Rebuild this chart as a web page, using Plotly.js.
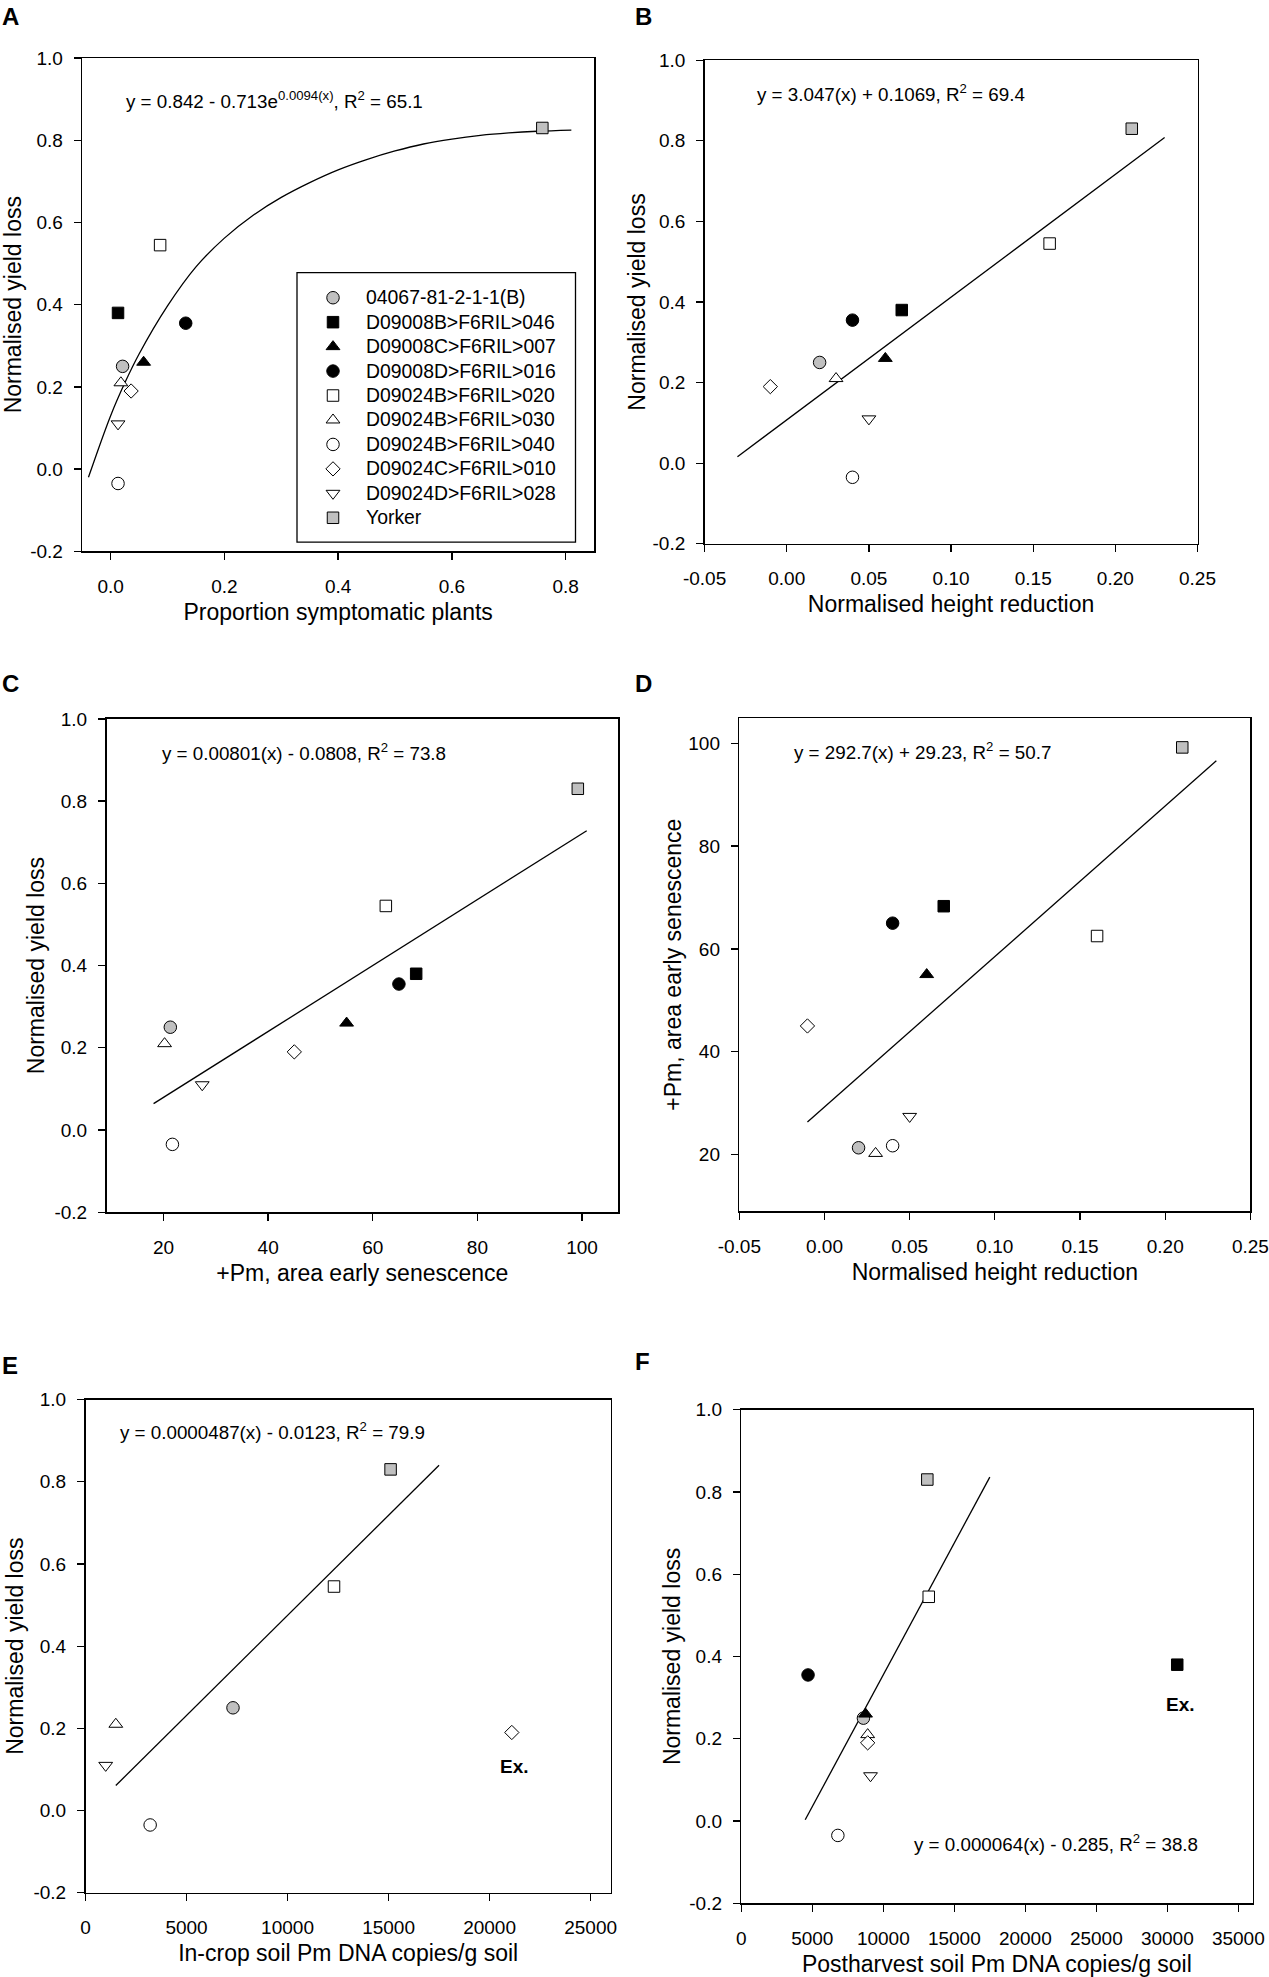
<!DOCTYPE html>
<html>
<head>
<meta charset="utf-8">
<script src="https://cdn.plot.ly/plotly-3.0.1.min.js"></script>
<style>
  body { margin: 0; background: #fff; }
  #chart { width: 1269px; height: 1977px; }
</style>
</head>
<body>
<div id="chart"></div>
<script>
// genotypes and their markers
var genotypes = ['04067-81-2-1-1(B)', 'D09008B>F6RIL>046', 'D09008C>F6RIL>007', 'D09008D>F6RIL>016',
  'D09024B>F6RIL>020', 'D09024B>F6RIL>030', 'D09024B>F6RIL>040', 'D09024C>F6RIL>010',
  'D09024D>F6RIL>028', 'Yorker'];
var symbols = ['circle', 'square', 'triangle-up', 'circle', 'square', 'triangle-up', 'circle', 'diamond', 'triangle-down', 'square'];
var fills = ['#c0c0c0', '#000', '#000', '#000', '#fff', '#fff', '#fff', '#fff', '#fff', '#c0c0c0'];

// values
var yieldLoss = [0.25, 0.38, 0.26, 0.355, 0.545, 0.21, -0.035, 0.19, 0.11, 0.83];
var symptomatic = [0.021, 0.013, 0.058, 0.132, 0.087, 0.018, 0.013, 0.036, 0.013, 0.759];
var heightRed = [0.02, 0.07, 0.06, 0.04, 0.16, 0.03, 0.04, -0.01, 0.05, 0.21];
var senescence = [21.3, 68.3, 55.0, 65.0, 62.5, 20.2, 21.7, 45.0, 27.4, 99.2];
var inCropDNA = [7300, null, null, null, 12300, 1500, 3200, 21100, 1000, 15100];
var postHarvestDNA = [8600, 30700, 8750, 4700, 13200, 8900, 6800, 8900, 9100, 13100];

// fitted lines
var fitAx = [-0.039, 0, 0.025, 0.05, 0.1, 0.15, 0.2, 0.25, 0.3, 0.35, 0.4, 0.45, 0.5, 0.55, 0.6, 0.65, 0.7, 0.75, 0.81];
var fitAy = [-0.02, 0.13, 0.21, 0.28, 0.397, 0.492, 0.562, 0.617, 0.661, 0.697, 0.728, 0.753, 0.774, 0.791, 0.803, 0.812, 0.818, 0.822, 0.825];
var fitBx = [-0.03, 0.23], fitBy = [0.016, 0.808];
var fitCx = [18.1, 100.9], fitCy = [0.064, 0.728];
var fitDx = [-0.01, 0.23], fitDy = [26.3, 96.6];
var fitEx = [1500, 17500], fitEy = [0.061, 0.840];
var fitFx = [4500, 17500], fitFy = [0.003, 0.836];

// tick labels
var yieldTicks = [-0.2, 0, 0.2, 0.4, 0.6, 0.8, 1.0];
var yieldTickText = ['-0.2', '0.0', '0.2', '0.4', '0.6', '0.8', '1.0'];
var propTicks = [0, 0.2, 0.4, 0.6, 0.8];
var propTickText = ['0.0', '0.2', '0.4', '0.6', '0.8'];
var heightTicks = [-0.05, 0, 0.05, 0.1, 0.15, 0.2, 0.25];
var heightTickText = ['-0.05', '0.00', '0.05', '0.10', '0.15', '0.20', '0.25'];
var senTicks = [20, 40, 60, 80, 100];
var senTickText = ['20', '40', '60', '80', '100'];
var inCropTicks = [0, 5000, 10000, 15000, 20000, 25000];
var postTicks = [0, 5000, 10000, 15000, 20000, 25000, 30000, 35000];

var W = 1269, H = 1977;
function px(x) { return x / W; }
function py(y) { return 1 - y / H; }

var FONT = 'Liberation Sans, Arial, Helvetica, sans-serif';

function axis(left, right, range, tickvals, ticktext, title, standoff, anchor, isX) {
  return {
    domain: isX ? [px(left), px(right)] : [py(right), py(left)],
    range: range,
    tickmode: 'array',
    tickvals: tickvals,
    ticktext: ticktext,
    ticks: 'outside', ticklen: 7, tickwidth: 1.3, tickcolor: '#000',
    ticklabelstandoff: isX ? 10 : 7,
    showline: true, linecolor: '#000', linewidth: 1.5, mirror: true,
    showgrid: false, zeroline: false, fixedrange: true,
    tickfont: { family: FONT, size: 19, color: '#000' },
    title: { text: title, font: { family: FONT, size: 23, color: '#000' }, standoff: standoff },
    anchor: anchor
  };
}

var traces = [];

function addFit(xs, ys, xa, ya, shape) {
  traces.push({
    x: xs, y: ys, xaxis: xa, yaxis: ya, mode: 'lines', type: 'scatter',
    line: { color: '#000', width: 1.3, shape: shape || 'linear', smoothing: 1 },
    showlegend: false, hoverinfo: 'skip'
  });
}

function sizeFor(sym) {
  if (sym === 'circle') return 12.5;
  if (sym === 'square') return 11.5;
  if (sym === 'diamond') return 11;
  return 12;
}

function addPoints(xs, ys, xa, ya, legend) {
  for (var i = 0; i < genotypes.length; i++) {
    if (xs[i] === null || ys[i] === null) continue;
    traces.push({
      x: [xs[i]], y: [ys[i]], xaxis: xa, yaxis: ya, type: 'scatter', mode: 'markers',
      // legend rows are spaced by the legend font, the label itself is drawn a bit larger
      name: '<span style="font-size:19.4px">' + genotypes[i] + '</span>', showlegend: legend,
      marker: { symbol: symbols[i], size: sizeFor(symbols[i]), color: fills[i], line: { color: '#000', width: 1 } }
    });
  }
}

// panel A first so the legend follows it
addFit(fitAx, fitAy, 'x', 'y', 'spline');
addPoints(symptomatic, yieldLoss, 'x', 'y', true);
addFit(fitBx, fitBy, 'x2', 'y2');
addPoints(heightRed, yieldLoss, 'x2', 'y2', false);
addFit(fitCx, fitCy, 'x3', 'y3');
addPoints(senescence, yieldLoss, 'x3', 'y3', false);
addFit(fitDx, fitDy, 'x4', 'y4');
addPoints(heightRed, senescence, 'x4', 'y4', false);
addFit(fitEx, fitEy, 'x5', 'y5');
addPoints(inCropDNA, yieldLoss, 'x5', 'y5', false);
addFit(fitFx, fitFy, 'x6', 'y6');
addPoints(postHarvestDNA, yieldLoss, 'x6', 'y6', false);

var layout = {
  width: W, height: H,
  margin: { l: 0, r: 0, t: 0, b: 0 },
  paper_bgcolor: '#fff', plot_bgcolor: '#fff',
  font: { family: FONT, color: '#000' },
  showlegend: true,
  legend: {
    x: px(300), y: py(280.5), xanchor: 'left', yanchor: 'top',
    bgcolor: 'rgba(0,0,0,0)', borderwidth: 0, itemwidth: 56,
    font: { family: FONT, size: 16.5, color: '#000' }
  },
  xaxis: axis(82.2, 594.1, [-0.05, 0.85], propTicks, propTickText, 'Proportion symptomatic plants', 8, 'y', true),
  yaxis: axis(58.1, 551.3, [-0.2, 1.0], yieldTicks, yieldTickText, 'Normalised yield loss', 3, 'x', false),
  xaxis2: axis(704.6, 1197.5, [-0.05, 0.25], heightTicks, heightTickText, 'Normalised height reduction', 8, 'y2', true),
  yaxis2: axis(60.2, 543.8, [-0.2, 1.0], yieldTicks, yieldTickText, 'Normalised yield loss', 0, 'x2', false),
  xaxis3: axis(106.5, 618.1, [9.1, 106.9], senTicks, senTickText, '+Pm, area early senescence', 8, 'y3', true),
  yaxis3: axis(718.9, 1212.2, [-0.2, 1.0], yieldTicks, yieldTickText, 'Normalised yield loss', 3, 'x3', false),
  xaxis4: axis(739.3, 1250.4, [-0.05, 0.25], heightTicks, heightTickText, 'Normalised height reduction', 8, 'y4', true),
  yaxis4: axis(718.1, 1211.3, [8.94, 104.9], senTicks, senTickText, '+Pm, area early senescence', 0, 'x4', false),
  xaxis5: axis(85.5, 610.8, [0, 26000], inCropTicks, inCropTicks.map(String), 'In-crop soil Pm DNA copies/g soil', 8, 'y5', true),
  yaxis5: axis(1399.5, 1892.8, [-0.2, 1.0], yieldTicks, yieldTickText, 'Normalised yield loss', 3, 'x5', false),
  xaxis6: axis(741.3, 1252.5, [0, 36000], postTicks, postTicks.map(String), 'Postharvest soil Pm DNA copies/g soil', 8, 'y6', true),
  yaxis6: axis(1409.6, 1903.3, [-0.2, 1.0], yieldTicks, yieldTickText, 'Normalised yield loss', 2, 'x6', false),
  shapes: [
    // legend frame in panel A
    { type: 'rect', xref: 'paper', yref: 'paper', x0: px(297), x1: px(575.5), y0: py(542.1), y1: py(272.7),
      line: { color: '#000', width: 1.3 }, fillcolor: 'rgba(0,0,0,0)' }
  ],
  annotations: []
};

var eqFont = { family: FONT, size: 18.8, color: '#000' };
function eq(text, x, y) {
  layout.annotations.push({ text: text, xref: 'paper', yref: 'paper', x: px(x), y: py(y),
    xanchor: 'left', yanchor: 'middle', showarrow: false, font: eqFont });
}
eq('y = 0.842 - 0.713e<sup>0.0094(x)</sup>, R<sup>2</sup> = 65.1', 124, 100.2);
eq('y = 3.047(x) + 0.1069, R<sup>2</sup> = 69.4', 755, 92.6);
eq('y = 0.00801(x) - 0.0808, R<sup>2</sup> = 73.8', 159.5, 751.8);
eq('y = 292.7(x) + 29.23, R<sup>2</sup> = 50.7', 791.5, 750.5);
eq('y = 0.0000487(x) - 0.0123, R<sup>2</sup> = 79.9', 118, 1430.6);
eq('y = 0.000064(x) - 0.285, R<sup>2</sup> = 38.8', 912, 1843.1);

// panel letters
var letters = [['A', 0, 16.8], ['B', 633, 16.8], ['C', 0, 683], ['D', 633, 683], ['E', 0, 1365.4], ['F', 633, 1361.2]];
letters.forEach(function (l) {
  layout.annotations.push({ text: '<b>' + l[0] + '</b>', xref: 'paper', yref: 'paper', x: px(l[1]), y: py(l[2]),
    xanchor: 'left', yanchor: 'middle', showarrow: false, font: { family: FONT, size: 24, color: '#000' } });
});

// excluded points
layout.annotations.push({ text: '<b>Ex.</b>', xref: 'x5', yref: 'y5', x: 21230, y: 0.107,
  showarrow: false, font: { family: FONT, size: 19, color: '#000' } });
layout.annotations.push({ text: '<b>Ex.</b>', xref: 'x6', yref: 'y6', x: 30956, y: 0.284,
  showarrow: false, font: { family: FONT, size: 19, color: '#000' } });

Plotly.newPlot('chart', traces, layout, { staticPlot: true, displayModeBar: false });
</script>
</body>
</html>
